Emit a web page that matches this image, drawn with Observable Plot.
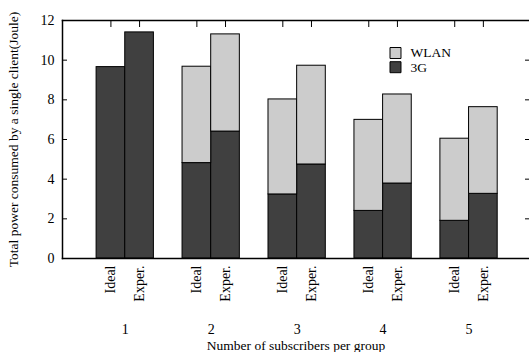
<!DOCTYPE html>
<html>
<head>
<meta charset="utf-8">
<script src="https://cdn.jsdelivr.net/npm/d3@7"></script>
<script src="https://cdn.jsdelivr.net/npm/@observablehq/plot@0.6"></script>
<style>
  html, body { margin: 0; padding: 0; background: #fff; overflow: hidden; }
  #chart svg { display: block; }
  #chart svg, #chart svg text {
    font-family: 'Liberation Serif', 'Times New Roman', serif !important;
    fill: #000;
  }
</style>
</head>
<body>
<div id="chart"></div>
<script>
// ---- data ----
const groups = ["1", "2", "3", "4", "5"];
const methods = ["Ideal", "Exper."];
// total power (Joule) per group, [Ideal, Exper.]
const totalIdeal = [9.65, 9.67, 8.02, 6.99, 6.04];
const totalExper = [11.40, 11.30, 9.72, 8.27, 7.63];
// 3G part of power
const g3Ideal = [9.65, 4.81, 3.23, 2.40, 1.90];
const g3Exper = [11.40, 6.40, 4.74, 3.78, 3.26];
const yTicks = [0, 2, 4, 6, 8, 10, 12];
const seriesNames = ["WLAN", "3G"];
const seriesColors = ["#cccccc", "#404040"];

// build rows: position = 3*group + method index
const rows = [];
groups.forEach((g, gi) => {
  methods.forEach((m, mi) => {
    const total = mi === 0 ? totalIdeal[gi] : totalExper[gi];
    const g3 = mi === 0 ? g3Ideal[gi] : g3Exper[gi];
    rows.push({group: g, method: m, pos: gi * 3 + mi, g3, total});
  });
});
const positions = rows.map(d => d.pos);
const labelByPos = new Map(rows.map(d => [d.pos, d.method]));
const groupCenters = groups.map((g, gi) => gi * 3 + 0.5);
const groupByPos = new Map(groups.map((g, gi) => [gi * 3 + 0.5, g]));

const font = "'Liberation Serif', 'Times New Roman', serif";

const chart = Plot.plot({
  width: 529,
  height: 352,
  marginLeft: 62,
  marginRight: 0,
  marginTop: 20,
  marginBottom: 94,
  style: {fontFamily: font, fontSize: "14px", color: "#000", background: "#fff"},
  x: {type: "linear", domain: [-1.69, 14.61]},
  y: {domain: [0, 12]},
  marks: [
    // 3G part
    Plot.rect(rows, {x1: d => d.pos - 0.5, x2: d => d.pos + 0.5, y1: 0, y2: "g3",
      fill: seriesColors[1], stroke: "#000", strokeWidth: 1}),
    // WLAN part
    Plot.rect(rows.filter(d => d.total > d.g3), {x1: d => d.pos - 0.5, x2: d => d.pos + 0.5, y1: "g3", y2: "total",
      fill: seriesColors[0], stroke: "#000", strokeWidth: 1}),
    // frame (left, top, bottom)
    Plot.frame({anchor: "left", strokeWidth: 1.5}),
    Plot.frame({anchor: "top", strokeWidth: 1.5}),
    Plot.frame({anchor: "bottom", strokeWidth: 1.5}),
    // left axis: inward ticks
    Plot.axisY({anchor: "left", ticks: yTicks, tickSize: -5, tickPadding: 13, label: null, fontSize: 14}),
    // right axis ticks only
    Plot.axisY({anchor: "right", ticks: yTicks.slice(1, -1), tickSize: -5, tickFormat: () => "", label: null}),
    // top ticks at bar centres
    Plot.axisX({anchor: "top", ticks: positions, tickSize: -6, tickFormat: () => "", label: null}),
    // rotated method labels
    Plot.axisX({anchor: "bottom", ticks: positions, tickSize: 0, tickPadding: 7, tickRotate: -90,
      tickFormat: p => labelByPos.get(p), label: null, fontSize: 14}),
    // group labels
    Plot.axisX({anchor: "bottom", ticks: groupCenters, tickSize: 0, tickPadding: 66,
      tickFormat: p => groupByPos.get(p), label: null, fontSize: 14}),
    // axis titles
    Plot.text(["Number of subscribers per group"], {frameAnchor: "bottom", dy: 87, lineAnchor: "middle",
      textAnchor: "middle", text: d => d, fontSize: 13.5}),
    Plot.text(["Total power consumed by a single client(Joule)"], {frameAnchor: "left", dx: -49, rotate: -90,
      textAnchor: "middle", lineAnchor: "middle", text: d => d, fontSize: 13.5}),
    // legend
    Plot.dot(seriesNames.filter(d => d === "WLAN"), {frameAnchor: "top-left", dx: 333, dy: 32.5, symbol: "square", r: 6.2,
      fill: seriesColors[0], stroke: "#000", strokeWidth: 1}),
    Plot.dot(seriesNames.filter(d => d === "3G"), {frameAnchor: "top-left", dx: 333, dy: 46.7, symbol: "square", r: 6.2,
      fill: seriesColors[1], stroke: "#000", strokeWidth: 1}),
    Plot.text(seriesNames.filter(d => d === "WLAN"), {frameAnchor: "top-left", dx: 348, dy: 32.5, text: d => d,
      textAnchor: "start", lineAnchor: "middle", fontSize: 13.5}),
    Plot.text(seriesNames.filter(d => d === "3G"), {frameAnchor: "top-left", dx: 348, dy: 46.7, text: d => d,
      textAnchor: "start", lineAnchor: "middle", fontSize: 13.5})
  ]
});
document.getElementById("chart").appendChild(chart);
</script>
</body>
</html>
